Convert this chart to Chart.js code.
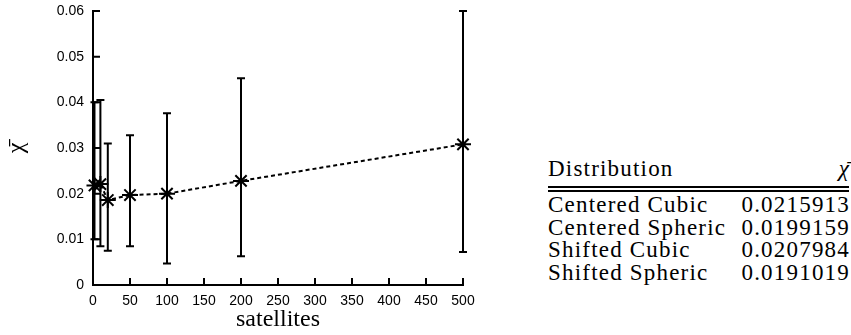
<!DOCTYPE html>
<html lang="en">
  <head>
    <meta charset="utf-8">
    <title>Chi vs satellites</title>
    <script src="https://cdn.jsdelivr.net/npm/chart.js@4.4.0/dist/chart.umd.min.js"></script>
    <style>
      body { margin: 0; background: #fff; width: 851px; height: 335px; position: relative; overflow: hidden; }
      #wrap { position: absolute; left: 0; top: 0; width: 480px; height: 335px; }
      .tbl { position: absolute; left: 548px; top: 0; width: 301px; font-family: "Liberation Serif", serif; font-size: 23px; letter-spacing: 1.2px; color: #000; }
      .row { position: absolute; left: 0; width: 301px; height: 24px; line-height: 24px; white-space: nowrap; }
      .row .v { position: absolute; right: -1px; top: 0; }
      .rule { position: absolute; left: 0; width: 301px; height: 2px; background: #000; }
    </style>
  </head>
  <body>
    <div id="wrap"><canvas id="chart" width="480" height="335"></canvas></div>
    <div class="tbl" id="tbl"></div>
    <script>
      const satellites = [2, 10, 20, 50, 100, 200, 500];
      const chiMean = [0.0218, 0.0221, 0.0186, 0.0197, 0.0200, 0.0228, 0.0308];
      const chiLow  = [0.0100, 0.0085, 0.0075, 0.0085, 0.0047, 0.0063, 0.0072];
      const chiHigh = [0.0400, 0.0405, 0.0310, 0.0328, 0.0376, 0.0453, 0.0600];

      const distributions = ['Centered Cubic', 'Centered Spheric', 'Shifted Cubic', 'Shifted Spheric'];
      const distChi = ['0.0215913', '0.0199159', '0.0207984', '0.0191019'];

      // table on the right
      const tbl = document.getElementById('tbl');
      let html = '<div class="row" style="top:157px">Distribution<span class="v"><i>χ̄</i></span></div>';
      html += '<div class="rule" style="top:186px"></div><div class="rule" style="top:190px"></div>';
      distributions.forEach((d, i) => {
        html += '<div class="row" style="top:' + (193 + i * 22.7) + 'px">' + d + '<span class="v">' + distChi[i] + '</span></div>';
      });
      tbl.innerHTML = html;

      // error bars drawn through the scales
      const errorBars = {
        id: 'errorBars',
        beforeDatasetsDraw(chart) {
          const ctx = chart.ctx, xs = chart.scales.x, ys = chart.scales.y;
          ctx.save();
          ctx.strokeStyle = '#000';
          ctx.lineWidth = 2;
          satellites.forEach((s, i) => {
            const px = xs.getPixelForValue(s);
            const lo = ys.getPixelForValue(chiLow[i]);
            const hi = ys.getPixelForValue(chiHigh[i]);
            ctx.beginPath();
            ctx.moveTo(px, lo); ctx.lineTo(px, hi);
            ctx.moveTo(px - 4, lo); ctx.lineTo(px + 4, lo);
            ctx.moveTo(px - 4, hi); ctx.lineTo(px + 4, hi);
            ctx.stroke();
          });
          ctx.restore();
        }
      };

      // tick marks pointing into the plot
      const innerTicks = {
        id: 'innerTicks',
        afterDraw(chart) {
          const ctx = chart.ctx, a = chart.chartArea;
          ctx.save();
          ctx.strokeStyle = '#000';
          ctx.lineWidth = 2;
          ctx.beginPath();
          chart.scales.x.ticks.forEach(t => {
            const px = chart.scales.x.getPixelForValue(t.value);
            ctx.moveTo(px, a.bottom); ctx.lineTo(px, a.bottom - 7);
          });
          chart.scales.y.ticks.forEach(t => {
            const py = chart.scales.y.getPixelForValue(t.value);
            ctx.moveTo(a.left, py); ctx.lineTo(a.left + 7, py);
          });
          ctx.stroke();
          ctx.restore();
        }
      };

      const ctx = document.getElementById('chart').getContext('2d');
      new Chart(ctx, {
        type: 'line',
        data: {
          labels: satellites,
          datasets: [{
            data: satellites.map((s, i) => ({ x: s, y: chiMean[i] })),
            borderColor: '#000',
            borderWidth: 2,
            borderDash: [4, 3],
            pointStyle: 'star',
            pointRadius: 8,
            pointBorderWidth: 2,
            pointBorderColor: '#000',
            pointBackgroundColor: '#000',
            fill: false,
            tension: 0,
            clip: false
          }]
        },
        options: {
          responsive: false,
          animation: false,
          layout: { padding: { top: 11, right: 17, left: 0, bottom: 0 } },
          plugins: { legend: { display: false }, tooltip: { enabled: false } },
          scales: {
            x: {
              type: 'linear',
              min: 0, max: 500,
              afterFit: s => { s.height = 50; s.paddingLeft = 0; s.paddingRight = 0; },
              ticks: { stepSize: 50, padding: 8, color: '#000', font: { family: 'Liberation Sans', size: 14 } },
              grid: { display: false, drawTicks: false },
              border: { display: true, color: '#000', width: 2 },
              title: { display: true, text: 'satellites', color: '#000', padding: { top: 0, bottom: 1 }, font: { family: 'Liberation Serif', size: 24 } }
            },
            y: {
              min: 0, max: 0.06,
              afterFit: s => { s.width = 93; s.paddingTop = 0; s.paddingBottom = 0; },
              ticks: {
                stepSize: 0.01, padding: 9, color: '#000',
                font: { family: 'Liberation Sans', size: 14 },
                callback: v => v === 0 ? '0' : v.toFixed(2)
              },
              grid: { display: false, drawTicks: false },
              border: { display: true, color: '#000', width: 2 },
              title: { display: true, text: 'χ̄', color: '#000', padding: { top: 2, bottom: 0 }, font: { family: 'Liberation Serif', size: 24 } }
            }
          }
        },
        plugins: [errorBars, innerTicks]
      });
    </script>
  </body>
</html>
